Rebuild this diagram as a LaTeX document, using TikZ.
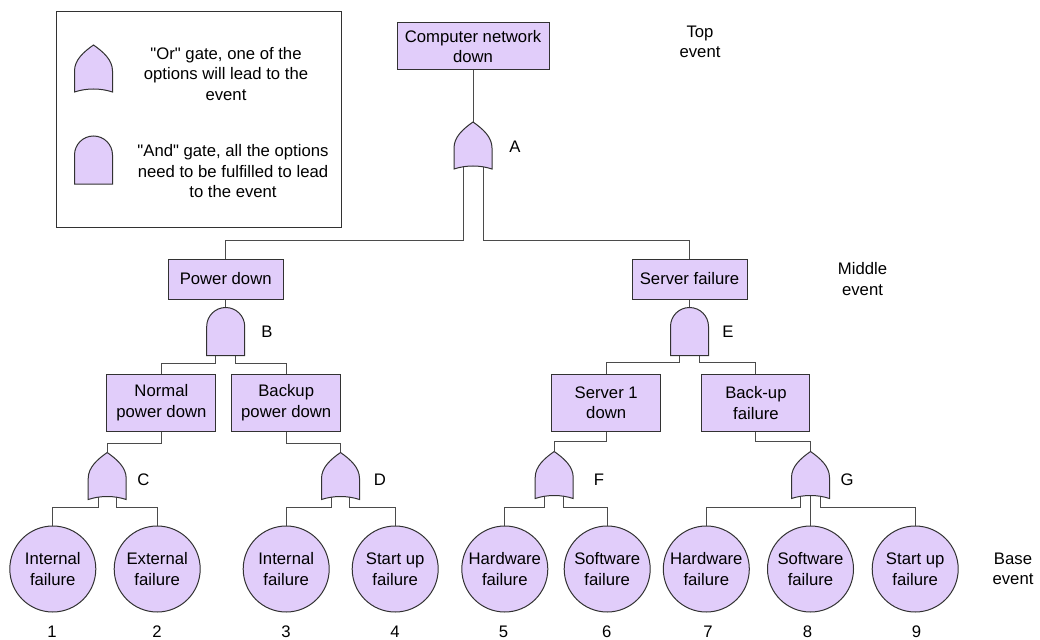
\documentclass[tikz,border=0pt]{standalone}
\usepackage{fontspec}
\setmainfont{Liberation Sans}[Ligatures=TeXOff]
\usetikzlibrary{backgrounds}
\definecolor{gatefill}{RGB}{225,205,250}
\definecolor{inkline}{RGB}{50,50,50}
\definecolor{wirecol}{RGB}{75,75,75}

\begin{document}
\begin{tikzpicture}[x=1pt,y=-1pt,
  every node/.style={font=\fontsize{16.7}{20.5}\selectfont, text=black},
  evbox/.style={draw=inkline, fill=gatefill, line width=1pt, rectangle, inner sep=0pt, align=center},
  basic/.style={draw=inkline, fill=gatefill, line width=1pt, circle, minimum size=86pt, inner sep=0pt, align=center},
  gatestyle/.style={draw=inkline, fill=gatefill, line width=1pt},
  gatecore/.style={rectangle, minimum width=38pt, minimum height=47pt, inner sep=0pt},
  wire/.style={draw=wirecol, line width=1pt},
  plain/.style={align=center, inner sep=0pt},
  % "or" gate: pointed arch with a concave base
  orgate/.pic={
    \path[gatestyle] (0,0) .. controls (-10,7) and (-19,15) .. (-19,26) -- (-19,47)
      .. controls (-7,43) and (7,43) .. (19,47) -- (19,26)
      .. controls (19,15) and (10,7) .. (0,0) -- cycle;
    \node[gatecore] (#1) at (0,23.5) {};
  },
  % "and" gate: round top, flat base
  andgate/.pic={
    \path[gatestyle] (-19,48) -- (-19,19) .. controls (-19,8.5) and (-10.5,0) .. (0,0)
      .. controls (10.5,0) and (19,8.5) .. (19,19) -- (19,48) -- cycle;
    \node[gatecore] (#1) at (0,24) {};
  }
]
\useasboundingbox (0,0) rectangle (1040,639);

% key
\node[draw=inkline, line width=1pt, minimum width=285pt, minimum height=215pt, inner sep=0pt] (key) at (198.5,119.5) {};
\pic at (93.5,45) {orgate=keyOr};
\pic at (93.5,136) {andgate=keyAnd};
\node[plain] (keyOrText) at (226,74) {"Or" gate, one of the\\options will lead to the\\event};
\node[plain] (keyAndText) at (233,171.5) {"And" gate, all the options\\need to be fulfilled to lead\\to the event};

% levels
\node[plain] (lvlTop) at (700,42) {Top\\event};
\node[plain] (lvlMid) at (862.5,279) {Middle\\event};
\node[plain] (lvlBase) at (1013,569) {Base\\event};

% events
\node[evbox, minimum width=152pt, minimum height=47pt] (top) at (473,46.5) {Computer network\\down};
\node[evbox, minimum width=115pt, minimum height=40pt] (pwr) at (225.7,279) {Power down};
\node[evbox, minimum width=115pt, minimum height=40pt] (srv) at (689.5,279) {Server failure};
\node[evbox, minimum width=109pt, minimum height=57pt] (npd) at (161.4,402.8) {Normal\\power down};
\node[evbox, minimum width=109pt, minimum height=57pt] (bpd) at (286.2,402.8) {Backup\\power down};
\node[evbox, minimum width=109pt, minimum height=57pt] (s1d) at (606.2,402.8) {Server 1\\down};
\node[evbox, minimum width=108pt, minimum height=57pt] (buf) at (755.9,402.8) {Back-up\\failure};

% gates
\pic at (473,122) {orgate=gA};
\pic at (225.7,307.5) {andgate=gB};
\pic at (107.2,452.5) {orgate=gC};
\pic at (340.5,452.5) {orgate=gD};
\pic at (689.5,307.5) {andgate=gE};
\pic at (554.2,451.5) {orgate=gF};
\pic at (810.5,451.5) {orgate=gG};

\node[plain] (lA) at (515,147) {A};
\node[plain] (lB) at (267,332) {B};
\node[plain] (lC) at (143.5,480) {C};
\node[plain] (lD) at (380,480) {D};
\node[plain] (lE) at (728,332) {E};
\node[plain] (lF) at (599,480) {F};
\node[plain] (lG) at (847,480) {G};

% base events
\node[basic] (c1) at (52.8,569) {Internal\\failure};
\node[basic] (c2) at (157.2,569) {External\\failure};
\node[basic] (c3) at (286.2,569) {Internal\\failure};
\node[basic] (c4) at (395.2,569) {Start up\\failure};
\node[basic] (c5) at (504.8,569) {Hardware\\failure};
\node[basic] (c6) at (607.2,569) {Software\\failure};
\node[basic] (c7) at (706.3,569) {Hardware\\failure};
\node[basic] (c8) at (810.5,569) {Software\\failure};
\node[basic] (c9) at (915.2,569) {Start up\\failure};

\node[plain] (n1) at (52,631.5) {1};
\node[plain] (n2) at (157,631.5) {2};
\node[plain] (n3) at (286,631.5) {3};
\node[plain] (n4) at (395,631.5) {4};
\node[plain] (n5) at (503.5,631.5) {5};
\node[plain] (n6) at (606.7,631.5) {6};
\node[plain] (n7) at (708,631.5) {7};
\node[plain] (n8) at (807.5,631.5) {8};
\node[plain] (n9) at (916.5,631.5) {9};

% connectors, under the shapes
\begin{scope}[on background layer]
  \fill[white] (0,0) rectangle (1040,639);
  \draw[wire] (top.south) -- (gA.north);
  \draw[wire] ([xshift=-10pt]gA.center) |- ([yshift=18pt]pwr.north) -- (pwr.north);
  \draw[wire] ([xshift=10pt]gA.center) |- ([yshift=18pt]srv.north) -- (srv.north);

  \draw[wire] (pwr.south) -- (gB.north);
  \draw[wire] ([xshift=-10pt]gB.center) |- ([yshift=10pt]npd.north) -- (npd.north);
  \draw[wire] ([xshift=10pt]gB.center) |- ([yshift=10pt]bpd.north) -- (bpd.north);
  \draw[wire] (npd.south) -- ++(0,12) -| (gC.north);
  \draw[wire] (bpd.south) -- ++(0,12) -| (gD.north);
  \draw[wire] ([xshift=-9pt]gC.center) |- ([yshift=18pt]c1.north) -- (c1.north);
  \draw[wire] ([xshift=9pt]gC.center) |- ([yshift=18pt]c2.north) -- (c2.north);
  \draw[wire] ([xshift=-9pt]gD.center) |- ([yshift=18pt]c3.north) -- (c3.north);
  \draw[wire] ([xshift=9pt]gD.center) |- ([yshift=18pt]c4.north) -- (c4.north);

  \draw[wire] (srv.south) -- (gE.north);
  \draw[wire] ([xshift=-10pt]gE.center) |- ([yshift=11pt]s1d.north) -- (s1d.north);
  \draw[wire] ([xshift=10pt]gE.center) |- ([yshift=11pt]buf.north) -- (buf.north);
  \draw[wire] (s1d.south) -- ++(0,9.5) -| (gF.north);
  \draw[wire] (buf.south) -- ++(0,9.5) -| (gG.north);
  \draw[wire] ([xshift=-10pt]gF.center) |- ([yshift=18pt]c5.north) -- (c5.north);
  \draw[wire] ([xshift=9.5pt]gF.center) |- ([yshift=18pt]c6.north) -- (c6.north);
  \draw[wire] ([xshift=-10pt]gG.center) |- ([yshift=18pt]c7.north) -- (c7.north);
  \draw[wire] (gG.center) -- (c8.north);
  \draw[wire] ([xshift=9.5pt]gG.center) |- ([yshift=18pt]c9.north) -- (c9.north);
\end{scope}
\end{tikzpicture}
\end{document}
